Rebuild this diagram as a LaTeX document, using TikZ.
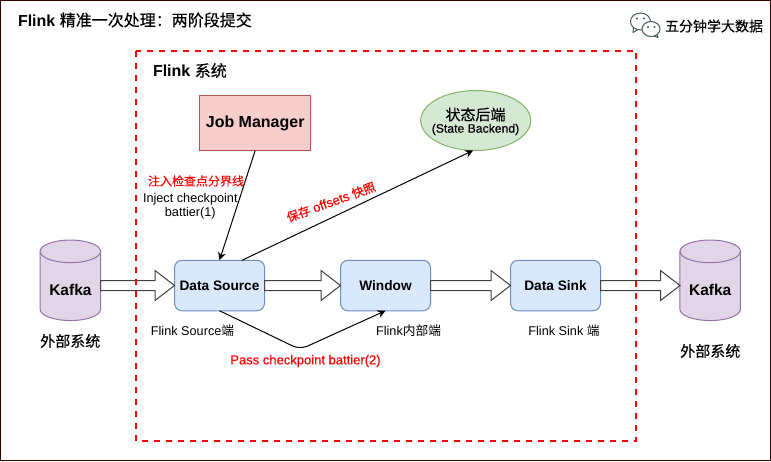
\documentclass[tikz,border=0pt]{standalone}
\usepackage{fontspec}
\setmainfont{Liberation Sans}
\newfontfamily\cjk[FakeBold=0.25]{Noto Sans CJK SC}
\newfontfamily\cjkr{Noto Sans CJK SC}
\newfontfamily\lat[FakeBold=0.35]{Liberation Sans}
\usetikzlibrary{arrows.meta,shapes.geometric,calc}
\definecolor{framecol}{HTML}{330000}
\definecolor{jmfill}{HTML}{F8CECC}\definecolor{jmdraw}{HTML}{B85450}
\definecolor{esfill}{HTML}{D5E8D4}\definecolor{esdraw}{HTML}{82B366}
\definecolor{opfill}{HTML}{DAE8FC}\definecolor{opdraw}{HTML}{6C8EBF}
\definecolor{kffill}{HTML}{E1D5E7}\definecolor{kfdraw}{HTML}{9673A6}
\definecolor{wxcol}{HTML}{4B5A60}
\tikzset{
  x=1pt,y=-1pt,
  every node/.style={inner sep=0pt,outer sep=0pt,align=center},
  opbox/.style={draw=opdraw,fill=opfill,line width=1pt,rounded corners=7.5pt,minimum width=90pt,minimum height=50.5pt,font=\bfseries\fontsize{13.7}{16}\selectfont},
  jmbox/.style={draw=jmdraw,fill=jmfill,line width=1pt,minimum width=110.5pt,minimum height=55pt,font=\bfseries\fontsize{16}{18}\selectfont},
  esbox/.style={draw=esdraw,fill=esfill,line width=1pt,ellipse,minimum width=110pt,minimum height=60pt},
  kfanchor/.style={minimum width=60.5pt,minimum height=80.5pt},
  kfshape/.style={draw=kfdraw,fill=kffill,line width=1pt},
  kftext/.style={font=\bfseries\fontsize{15.5}{18}\selectfont},
  flow/.style={draw=black,line width=1pt,-{Stealth[length=8pt,width=8pt]}},
  block/.style={draw=black!75,fill=white,line width=1pt,line join=miter},
  small/.style={font=\fontsize{12.7}{14.5}\selectfont},
  redlab/.style={text=red,font=\lat\fontsize{13}{15}\selectfont},
  headlab/.style={font=\bfseries\fontsize{16}{18}\selectfont},
  extlab/.style={font=\cjk\fontsize{15}{17}\selectfont},
  wx/.style={draw=wxcol,fill=white,line width=1pt},
  wxdot/.style={fill=wxcol,draw=none},
}
\newcommand{\blockarrow}[2]{%
  \path let \p1=(#1.east),\p2=(#2.west) in
    coordinate (s) at (\x1,\y1) coordinate (e) at (\x2,\y1);
  \draw[block] ($(s)+(0,-5)$) -- ($(e)+(-19.5,-5)$) -- ($(e)+(-19.5,-15)$) -- (e)
    -- ($(e)+(-19.5,15)$) -- ($(e)+(-19.5,5)$) -- ($(s)+(0,5)$) -- cycle;
}
\newcommand{\kafkacyl}[3]{%
  \node[kfanchor] (#1) at (#2,#3) {};
  \draw[kfshape] ($(#1.north west)+(0,11.3)$) -- ($(#1.south west)+(0,-11.3)$)
    arc[start angle=180,end angle=360,x radius=30.25pt,y radius=11.3pt]
    -- ($(#1.north east)+(0,11.3)$)
    arc[start angle=0,end angle=180,x radius=30.25pt,y radius=11.3pt] -- cycle;
  \draw[kfshape,fill=none] ($(#1.north west)+(0,11.3)$)
    arc[start angle=180,end angle=360,x radius=30.25pt,y radius=11.3pt];
  \node[kftext] (#1t) at ($(#1.center)+(0,10)$) {Kafka};
}
\begin{document}
\begin{tikzpicture}
\useasboundingbox (0,0) rectangle (771,461);
\fill[white] (0,0) rectangle (771,461);
\draw[framecol,line width=1.5pt] (0.7,0.7) rectangle (770.3,460.3);

\node[anchor=west,headlab] (title) at (18,20) {Flink {\cjk\mdseries 精准一次处理：两阶段提交}};
\node[anchor=west,headlab] (sys) at (153,70.5) {Flink {\cjk\mdseries 系统}};

% WeChat mark
\draw[wx,line join=round] (633.5,27) -- (633,32.5) -- (638,29.5);
\draw[wx] (640.5,21.5) ellipse [x radius=10,y radius=8.5];
\draw[wx,line join=round] (656.5,33) -- (658,37.5) -- (652.5,35.5);
\draw[wx] (651,29) ellipse [x radius=9,y radius=7.5];
\fill[wxdot] (637,18.5) circle (1.1) (644,18.5) circle (1.1) (648,27) circle (1.1) (654.5,27) circle (1.1);
\node[anchor=west,font=\cjk\fontsize{14}{16}\selectfont] (brand) at (665,26) {五分钟学大数据};

\node[jmbox] (jm) at (255.2,123) {Job Manager};
\node[esbox] (es) at (475.7,120.5) {};
\node[font=\cjk\fontsize{15}{17}\selectfont] (est) at (475.5,114.5) {状态后端};
\node[font=\lat\fontsize{12.2}{14}\selectfont] (esb) at (475.5,129.5) {(State Backend)};

\node[opbox] (ds) at (219.5,285.5) {Data Source};
\node[opbox] (win) at (385.5,285.5) {Window};
\node[opbox] (sink) at (555.5,285.5) {Data Sink};

\kafkacyl{k1}{70.4}{280.3}
\kafkacyl{k2}{710.2}{280.3}

\coordinate (k1out) at (100.5,285.5);
\coordinate (k2in) at (680,285.5);
\blockarrow{k1out}{ds}
\blockarrow{ds}{win}
\blockarrow{win}{sink}
\blockarrow{sink}{k2in}

\coordinate (dsout) at (242,260.3);
\coordinate (bend) at (300,349.5);
\draw[flow] (jm.south) -- (ds.north);
\draw[flow] (dsout) -- (es.265);
\draw[flow,rounded corners=8pt] (ds.south) -- (bend) -- (win.south);

\node[extlab] (ext1) at (70.3,341) {外部系统};
\node[extlab] (ext2) at (710.3,351) {外部系统};

\node[redlab,font=\cjk\fontsize{12}{14}\selectfont] (inj) at (196,181) {注入检查点分界线};
\node[small] (injen) at (190.3,206) {Inject checkpoint\\battier(1)};
\node[redlab,rotate=20] (snap) at (331,202) {{\cjk\fontsize{12}{14}\selectfont 保存} offsets {\cjk\fontsize{12}{14}\selectfont 快照}};
\node[small] (l1) at (192.5,331) {Flink Source{\cjkr 端}};
\node[small] (l2) at (408.5,331) {Flink{\cjkr 内部端}};
\node[small] (l3) at (564,331) {Flink Sink {\cjkr 端}};
\node[redlab] (pass) at (305.5,361) {Pass checkpoint battier(2)};

\draw[red,line width=2pt,dash pattern=on 6pt off 6pt] (135.5,50.5) rectangle (636,440.5);
\end{tikzpicture}
\end{document}
